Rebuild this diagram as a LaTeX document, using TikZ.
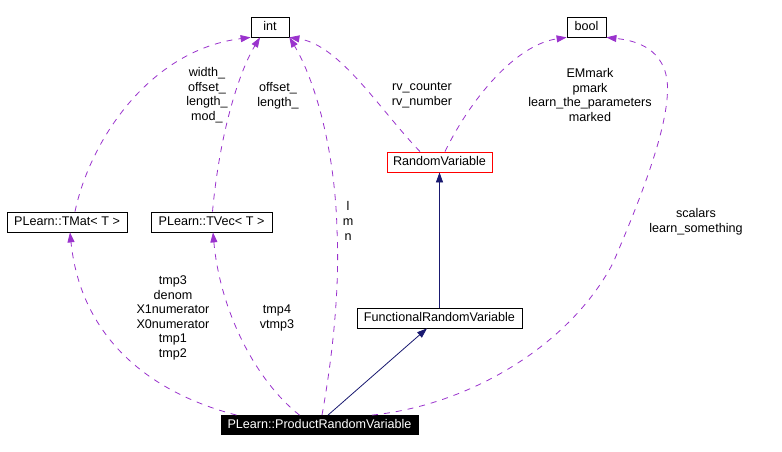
\documentclass[tikz,border=0pt]{standalone}
\usepackage{fontspec}
\setmainfont{Liberation Sans}
\usetikzlibrary{arrows.meta}
\definecolor{usecol}{HTML}{9A32CD}
\definecolor{inhcol}{HTML}{191970}
\begin{document}
\begin{tikzpicture}[x=1pt,y=-1pt,
  txt/.style={font=\fontsize{12.6}{14.6}\selectfont},
  box/.style={txt,draw=black,line width=0.8pt,inner sep=0pt,minimum height=20pt,text height=9pt,text depth=2.5pt},
  lbl/.style={txt,align=center,inner sep=0pt},
  use/.style={draw=usecol,line width=0.8pt,dash pattern=on 6pt off 6pt,-{Triangle[length=10pt,width=7pt,fill=usecol]}},
  inh/.style={draw=inhcol,line width=0.8pt,-{Triangle[length=10pt,width=7pt,fill=inhcol]}}]
\fill[white] (0,0) rectangle (782,452);
\useasboundingbox (0,0) rectangle (782,452);

\node[box,minimum width=38pt] (int) at (270,27) {int};
\node[box,minimum width=39pt] (bool) at (586.5,27) {bool};
\node[box,draw=red,minimum width=105pt] (rv) at (439.5,162) {RandomVariable};
\node[box,minimum width=120pt] (tmat) at (67,222) {PLearn::TMat< T >};
\node[box,minimum width=121pt] (tvec) at (211.5,222) {PLearn::TVec< T >};
\node[box,minimum width=165pt] (frv) at (439.5,318) {FunctionalRandomVariable};
\node[box,fill=black,text=white,minimum width=197pt,minimum height=19pt] (prod) at (319.5,425) {PLearn::ProductRandomVariable};

% inheritance
\draw[inh] (frv.north) -- (rv.south);
\draw[inh] ([xshift=8.5pt]prod.north) -- ([xshift=-12.5pt]frv.south);

% usage
\draw[use] ([xshift=8pt]tmat.north) .. controls (90,140) and (150,50) .. (int.south west);
\draw[use] ([xshift=1pt]tvec.north) .. controls (220,130) and (240,70) .. ([xshift=-10pt]int.south);
\draw[use] ([xshift=2.5pt]prod.north) .. controls (332,360) and (340,290) .. (337,230) .. controls (335,150) and (315,80) .. (int.south east);
\draw[use] ([xshift=-19.5pt]rv.north) .. controls (380,110) and (340,45) .. (int.south east);
\draw[use] ([xshift=5.5pt]rv.north) .. controls (470,100) and (515,45) .. (bool.south west);
\draw[use] ([xshift=52.5pt]prod.north) .. controls (470,405) and (570,345) .. (613,263) .. controls (640,200) and (672,120) .. (667,80) .. controls (662,45) and (630,40) .. (bool.south east);
\draw[use] ([xshift=-83pt]prod.north) .. controls (140,390) and (80,330) .. ([xshift=3pt]tmat.south);
\draw[use] ([xshift=-20pt]prod.north) .. controls (255,380) and (220,310) .. ([xshift=1.5pt]tvec.south);

% labels
\node[lbl] (l1) at (207,95) {width\_\\offset\_\\length\_\\mod\_};
\node[lbl] (l2) at (278,95.5) {offset\_\\length\_};
\node[lbl] (l3) at (422,95) {rv\_counter\\rv\_number};
\node[lbl] (l4) at (348,221) {l\\m\\n};
\node[lbl] (l5) at (590,95) {EMmark\\pmark\\learn\_the\_parameters\\marked};
\node[lbl] (l6) at (696,222) {scalars\\learn\_something};
\node[lbl] (l7) at (173,318) {tmp3\\denom\\X1numerator\\X0numerator\\tmp1\\tmp2};
\node[lbl] (l8) at (277,318) {tmp4\\vtmp3};
\end{tikzpicture}
\end{document}
